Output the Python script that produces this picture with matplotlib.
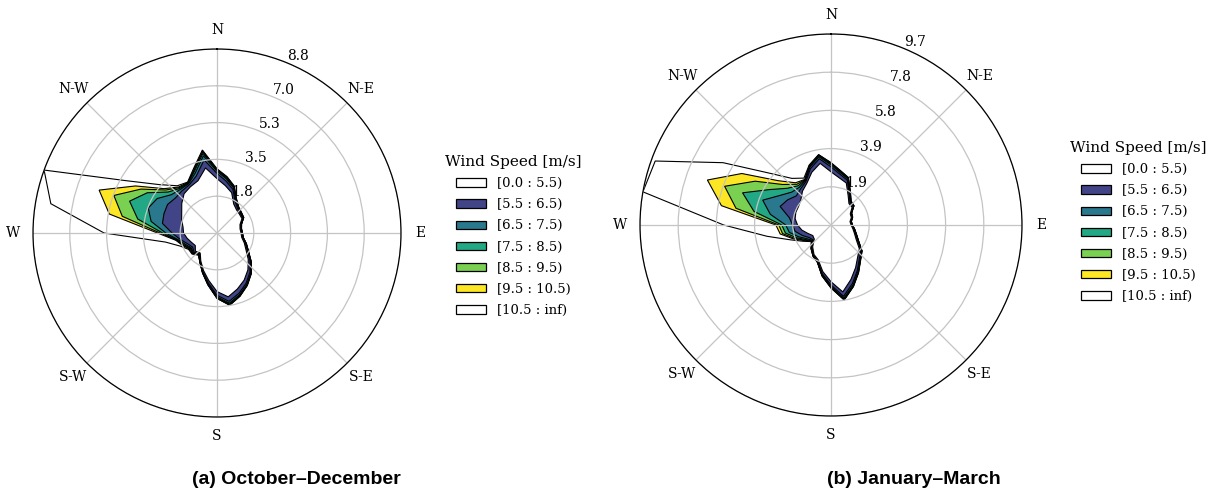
import numpy as np
import matplotlib.pyplot as plt
from matplotlib.patches import Patch

plt.rcParams["font.family"] = "DejaVu Serif"

# sector directions (deg, clockwise from north)
directions = list(range(0, 360, 10))

speed_labels = ["[0.0 : 5.5)", "[5.5 : 6.5)", "[6.5 : 7.5)", "[7.5 : 8.5)",
                "[8.5 : 9.5)", "[9.5 : 10.5)", "[10.5 : inf)"]
bin_colors = ["white", "#414487", "#2a788e", "#22a884", "#7ad151", "#fde725", "white"]

# October-December: cumulative frequency (%) up to the upper edge of each speed bin
od_b0 = [2.60, 2.30, 2.05, 1.60, 1.45, 1.40, 1.38, 1.17, 1.12, 1.15, 1.20, 1.39, 1.60, 1.95, 2.30, 2.60, 2.85, 3.10,
         2.80, 2.30, 1.90, 1.55, 1.25, 1.35, 1.20, 1.30, 1.45, 1.60, 1.65, 1.80, 1.95, 2.20, 2.45, 2.55, 2.66, 3.16]
od_b1 = [2.85, 2.52, 2.22, 1.74, 1.53, 1.46, 1.43, 1.21, 1.16, 1.19, 1.24, 1.45, 1.68, 2.06, 2.45, 2.78, 3.07, 3.32,
         2.98, 2.42, 1.97, 1.59, 1.30, 1.43, 1.35, 1.50, 1.78, 2.15, 2.65, 2.70, 2.73, 2.60, 2.62, 2.66, 2.90, 3.55]
od_b2 = [2.95, 2.62, 2.30, 1.80, 1.57, 1.49, 1.45, 1.23, 1.17, 1.20, 1.26, 1.47, 1.71, 2.10, 2.50, 2.84, 3.14, 3.41,
         3.05, 2.47, 2.00, 1.61, 1.33, 1.47, 1.42, 1.60, 1.88, 2.45, 3.20, 3.50, 3.30, 2.85, 2.72, 2.72, 3.05, 3.75]
od_b3 = [3.00, 2.67, 2.34, 1.83, 1.59, 1.50, 1.46, 1.24, 1.18, 1.21, 1.27, 1.48, 1.72, 2.12, 2.52, 2.87, 3.18, 3.46,
         3.09, 2.49, 2.01, 1.62, 1.35, 1.50, 1.46, 1.66, 1.93, 2.60, 3.85, 4.45, 3.85, 3.05, 2.78, 2.75, 3.15, 3.87]
od_b4 = [3.03, 2.70, 2.36, 1.85, 1.60, 1.51, 1.47, 1.24, 1.18, 1.21, 1.27, 1.49, 1.73, 2.13, 2.53, 2.88, 3.20, 3.49,
         3.11, 2.50, 2.02, 1.62, 1.36, 1.52, 1.50, 1.71, 1.97, 2.72, 4.60, 5.25, 4.20, 3.20, 2.83, 2.77, 3.20, 3.94]
od_b5 = [3.05, 2.72, 2.38, 1.86, 1.61, 1.52, 1.47, 1.25, 1.19, 1.22, 1.28, 1.49, 1.73, 2.13, 2.54, 2.89, 3.21, 3.50,
         3.12, 2.51, 2.02, 1.63, 1.37, 1.54, 1.53, 1.75, 2.00, 2.85, 5.23, 6.00, 4.50, 3.30, 2.87, 2.79, 3.24, 3.99]
od_b6 = [3.07, 2.74, 2.40, 1.87, 1.62, 1.53, 1.48, 1.25, 1.19, 1.22, 1.28, 1.50, 1.74, 2.14, 2.55, 2.90, 3.22, 3.51,
         3.13, 2.52, 2.03, 1.63, 1.38, 1.56, 1.57, 1.85, 2.50, 5.40, 8.07, 8.80, 5.00, 3.60, 2.95, 2.81, 3.28, 4.03]

# January-March
jm_b0 = [2.70, 2.43, 2.27, 1.74, 1.42, 1.40, 1.13, 1.10, 0.98, 1.02, 1.13, 1.27, 1.48, 1.88, 2.11, 2.50, 2.95, 3.45,
         2.88, 2.40, 1.89, 1.73, 1.45, 1.11, 1.07, 1.25, 1.50, 1.70, 1.85, 1.90, 1.90, 2.00, 2.25, 2.45, 2.85, 3.18]
jm_b1 = [2.95, 2.62, 2.42, 1.85, 1.50, 1.46, 1.17, 1.14, 1.02, 1.06, 1.18, 1.33, 1.56, 1.98, 2.24, 2.67, 3.17, 3.68,
         3.05, 2.52, 1.96, 1.78, 1.50, 1.18, 1.28, 1.55, 1.85, 1.95, 2.15, 2.75, 2.55, 2.30, 2.40, 2.55, 3.05, 3.42]
jm_b2 = [3.05, 2.70, 2.49, 1.90, 1.54, 1.49, 1.19, 1.15, 1.03, 1.07, 1.20, 1.35, 1.59, 2.02, 2.29, 2.73, 3.25, 3.77,
         3.12, 2.57, 1.99, 1.80, 1.53, 1.22, 1.40, 1.75, 2.15, 2.30, 3.13, 3.69, 3.00, 2.60, 2.50, 2.60, 3.13, 3.52]
jm_b3 = [3.10, 2.74, 2.53, 1.93, 1.56, 1.50, 1.20, 1.16, 1.04, 1.08, 1.21, 1.36, 1.60, 2.04, 2.31, 2.76, 3.29, 3.82,
         3.16, 2.60, 2.00, 1.81, 1.55, 1.25, 1.48, 1.88, 2.35, 2.50, 3.97, 4.78, 3.60, 2.90, 2.60, 2.63, 3.17, 3.57]
jm_b4 = [3.13, 2.77, 2.55, 1.95, 1.57, 1.51, 1.20, 1.16, 1.04, 1.08, 1.21, 1.37, 1.61, 2.05, 2.32, 2.78, 3.31, 3.85,
         3.18, 2.61, 2.01, 1.82, 1.56, 1.27, 1.54, 1.98, 2.50, 2.65, 4.90, 5.75, 4.45, 3.20, 2.70, 2.65, 3.20, 3.60]
jm_b5 = [3.15, 2.79, 2.56, 1.96, 1.58, 1.52, 1.21, 1.17, 1.05, 1.09, 1.22, 1.37, 1.61, 2.05, 2.33, 2.79, 3.32, 3.86,
         3.19, 2.62, 2.01, 1.82, 1.57, 1.29, 1.58, 2.05, 2.62, 2.80, 5.65, 6.68, 5.23, 3.50, 2.80, 2.67, 3.22, 3.62]
jm_b6 = [3.17, 2.80, 2.57, 1.97, 1.59, 1.52, 1.21, 1.17, 1.05, 1.09, 1.22, 1.38, 1.62, 2.06, 2.34, 2.80, 3.33, 3.87,
         3.20, 2.63, 2.02, 1.83, 1.58, 1.31, 1.65, 2.20, 3.30, 5.45, 9.70, 9.50, 6.33, 4.10, 3.09, 2.75, 3.24, 3.63]

compass = ["N", "N-E", "E", "S-E", "S", "S-W", "W", "N-W"]


def draw_rose(ax, cum_bins):
    theta = np.deg2rad(np.append(directions, directions[0]))
    nb = len(cum_bins)
    for i, cum in enumerate(cum_bins):
        r = np.append(cum, cum[0])
        # inner bins go on top, all fills stay under the grid
        ax.fill(theta, r, facecolor=bin_colors[i], edgecolor="black",
                linewidth=0.8, zorder=0.1 * (nb - i))

    rmax = max(max(c) for c in cum_bins)
    ax.set_theta_zero_location("N")
    ax.set_theta_direction(-1)
    ax.set_ylim(0, rmax)
    radii = np.linspace(0, rmax, 6)[1:]
    ax.set_rgrids(radii, labels=["%.1f" % v for v in radii], angle=22.5, fontsize=10)
    ax.set_thetagrids(np.arange(0, 360, 45), labels=compass, fontsize=10)
    ax.tick_params(axis="x", pad=3.5)
    ax.grid(True, color="#c4c4c4", linewidth=0.9)
    ax.spines["polar"].set_linewidth(0.9)


fig = plt.figure(figsize=(12.17, 4.92), dpi=100)

ax1 = fig.add_axes([33 / 1217, (492 - 233 - 184) / 492, 368 / 1217, 368 / 492], projection="polar")
draw_rose(ax1, [od_b0, od_b1, od_b2, od_b3, od_b4, od_b5, od_b6])

ax2 = fig.add_axes([640 / 1217, (492 - 225 - 191) / 492, 382 / 1217, 382 / 492], projection="polar")
draw_rose(ax2, [jm_b0, jm_b1, jm_b2, jm_b3, jm_b4, jm_b5, jm_b6])

handles = [Patch(facecolor=c, edgecolor="black", linewidth=0.9) for c in bin_colors]
for anchor in [(433 / 1217, 1 - 143 / 492), (1058 / 1217, 1 - 129 / 492)]:
    fig.legend(handles, speed_labels, title="Wind Speed [m/s]", loc="upper left",
               bbox_to_anchor=anchor, frameon=False, fontsize=9.5, title_fontsize=11,
               handlelength=2.3, handleheight=0.6, labelspacing=0.62)

fig.text(296 / 1217, 1 - 480 / 492, "(a) October\u2013December", ha="center", va="center",
         fontsize=14, fontweight="bold", family="Liberation Sans")
fig.text(914 / 1217, 1 - 480 / 492, "(b) January\u2013March", ha="center", va="center",
         fontsize=14, fontweight="bold", family="Liberation Sans")

fig.savefig("out.png", dpi=100)
